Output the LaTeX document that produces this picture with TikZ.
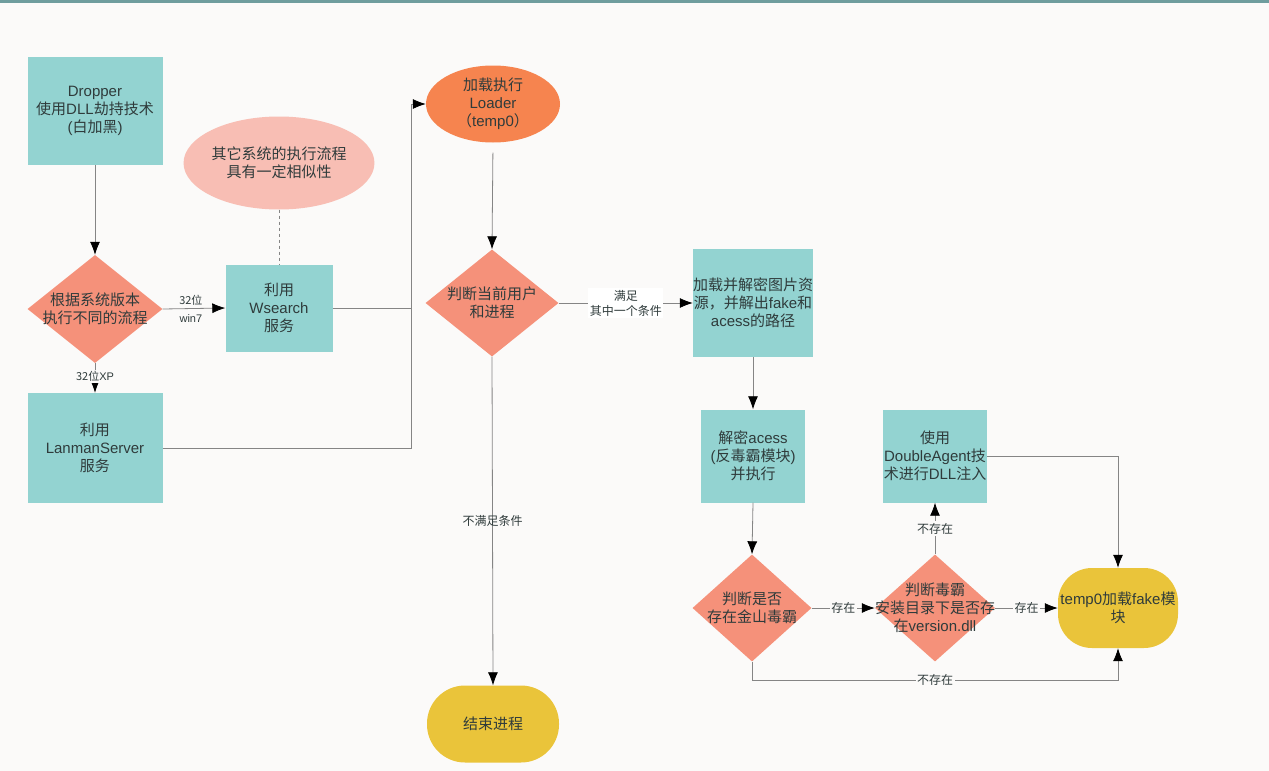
\documentclass[tikz,border=0pt]{standalone}
\usepackage{fontspec}
\setmainfont{Noto Sans CJK SC}
\newfontfamily\latf{Liberation Sans}
\newcommand\en[1]{{\latf #1}}
\usetikzlibrary{shapes.geometric,arrows.meta}
\definecolor{bgc}{HTML}{FBFAF9}
\definecolor{teal}{HTML}{93D3D1}
\definecolor{salmon}{HTML}{F5917A}
\definecolor{orng}{HTML}{F6844F}
\definecolor{pinkc}{HTML}{F8BEB4}
\definecolor{yell}{HTML}{EAC43A}
\definecolor{txt}{HTML}{2F3B3B}
\definecolor{linec}{HTML}{858585}
\definecolor{topc}{HTML}{6F9D9E}
\tikzset{
  base/.style={text=txt, align=center, inner sep=0pt, font=\fontsize{15}{18}\selectfont},
  tbox/.style={base, fill=teal, minimum width=#1},
  dia/.style={shape=diamond, fill=salmon, inner sep=0pt},
  dtext/.style={label={[base]center:#1}},
  term/.style={base, fill=yell},
  arr/.style={draw=linec, line width=0.8pt, -{Latex[length=13pt,width=10pt,color=black]}},
  ln/.style={draw=linec, line width=0.8pt},
  lbl/.style={text=txt, align=center, inner sep=1.5pt, font=\fontsize{12}{15}\selectfont, fill=bgc},
}
\begin{document}
\begin{tikzpicture}[x=1pt,y=-1pt]
\fill[bgc] (0,0) rectangle (1269,771);
\useasboundingbox (0,0) rectangle (1269,771);
\fill[topc] (0,0) rectangle (1269,3);

% nodes
\node[tbox=135pt, minimum height=108pt] (drop) at (95,111) {\en{Dropper}\\使用\en{DLL}劫持技术\\\en{(}白加黑\en{)}};
\node[dia, minimum width=135pt, minimum height=108pt, dtext={根据系统版本\\执行不同的流程}] (d1) at (95,309) {};
\node[tbox=107pt, minimum height=87pt] (ws) at (279,308) {利用\\\en{Wsearch}\\服务};
\node[base, ellipse, fill=pinkc, minimum width=148pt, minimum height=93pt] (oth) at (279,163) {其它系统的执行流程\\具有一定相似性};
\node[tbox=135pt, minimum height=110pt] (lan) at (95,448) {利用\\\en{LanmanServer}\\服务};
\node[base, ellipse, fill=orng, minimum width=134pt, minimum height=77pt] (ld) at (493,104) {加载执行\\\en{Loader}\\（\en{temp0}）};
\node[dia, minimum width=133pt, minimum height=107pt, dtext={判断当前用户\\和进程}] (d2) at (492,303) {};
\node[term, rounded corners=38pt, minimum width=132pt, minimum height=77pt] (end) at (493,724) {结束进程};
\node[tbox=120pt, minimum height=108pt] (b1) at (753,303) {加载并解密图片资\\源，并解出\en{fake}和\\\en{acess}的路径};
\node[tbox=104pt, minimum height=93pt] (b2) at (753,456) {解密\en{acess}\\\en{(}反毒霸模块\en{)}\\并执行};
\node[tbox=104pt, minimum height=93pt] (da) at (935,456) {使用\\\en{DoubleAgent}技\\术进行\en{DLL}注入};
\node[dia, minimum width=119pt, minimum height=107pt, dtext={判断是否\\存在金山毒霸}] (d3) at (752,608) {};
\node[dia, minimum width=120pt, minimum height=107pt, dtext={判断毒霸\\安装目录下是否存\\在\en{version.dll}}] (d4) at (935,608) {};
\node[term, rounded corners=34pt, minimum width=120pt, minimum height=80pt] (tmp) at (1118,608) {\en{temp0}加载\en{fake}模\\块};

\coordinate (jx) at (411,0);
\coordinate (by) at (0,680);

% connectors
\draw[arr] (drop.south) -- (d1.north);
\draw[arr] (d1.east) -- node[pos=0.45, text=txt, align=center, inner sep=0pt, font=\fontsize{11}{18}\selectfont] {32位\\\en{win7}} (ws.west);
\draw[arr] (d1.south) -- node[lbl, pos=0.45, font=\fontsize{11}{13}\selectfont] {32位\en{XP}} (lan.north);
\draw[dashed, draw=linec, line width=0.6pt] (oth.south) -- (ws.north);
\draw[ln] (ws.east) -- (ws.east -| jx);
\draw[arr] (lan.east) -- (lan.east -| jx) -- (ld.west -| jx) -- (ld.west);
\draw[arr, shorten <=10pt] (ld.south) -- (d2.north);
\draw[arr] (d2.east) -- node[lbl, fill=white, pos=0.5] {满足\\其中一个条件} (b1.west);
\draw[arr] (d2.south) -- node[lbl, fill=none, pos=0.5] {不满足条件} (end.north);
\draw[arr] (b1.south) -- (b2.north);
\draw[arr] (b2.south) -- (d3.north);
\draw[arr] (d3.east) -- node[lbl] {存在} (d4.west);
\draw[arr] (d4.east) -- node[lbl] {存在} (tmp.west);
\draw[arr] (d4.north) -- node[lbl] {不存在} (da.south);
\draw[arr] (da.east) -| (tmp.north);
\draw[arr] (d3.south) -- (d3.south |- by) -- node[lbl] {不存在} (tmp.south |- by) -- (tmp.south);
\end{tikzpicture}
\end{document}
